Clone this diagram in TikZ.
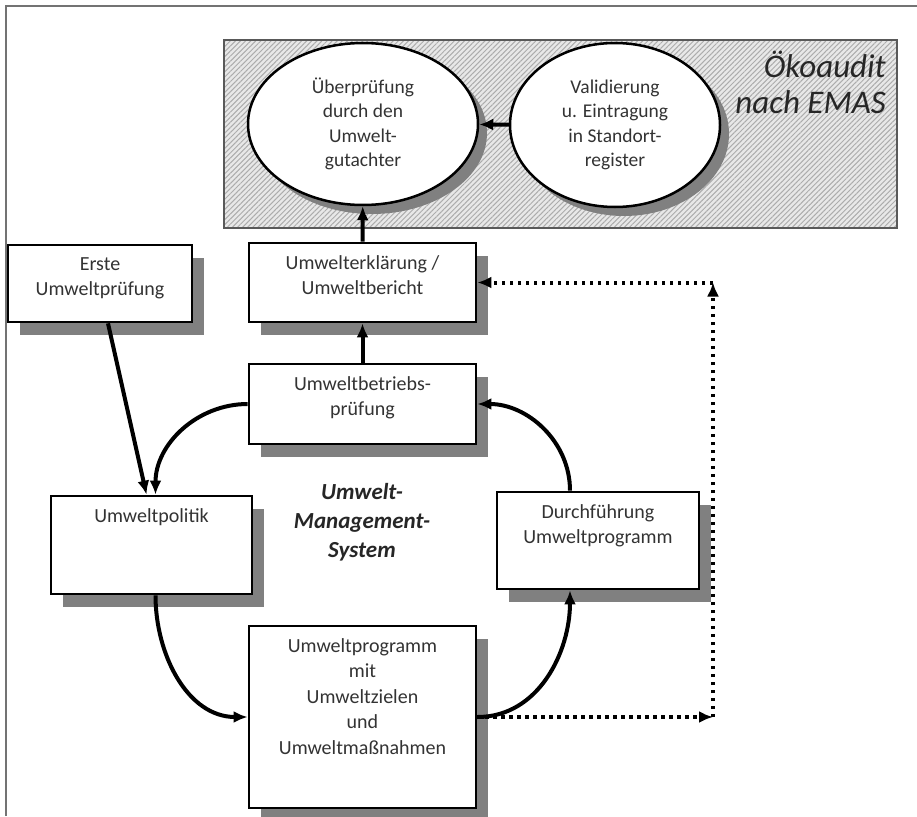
\documentclass[tikz,border=0pt]{standalone}
\usepackage{fontspec}
\setmainfont{Carlito}
\usepackage{tikz}
\usetikzlibrary{positioning}
\usetikzlibrary{shapes.geometric}
\usetikzlibrary{shadows}
\usetikzlibrary{patterns.meta}
\usetikzlibrary{arrows.meta}
\tikzset{>={Latex[length=14pt,width=12pt]}}
\definecolor{framegray}{HTML}{737373}
\definecolor{shadowgray}{HTML}{808080}
\tikzset{
  umbox/.style={draw=black,line width=2.7pt,fill=white,inner sep=0pt,
    drop shadow={shadow xshift=12pt,shadow yshift=-13pt,fill=shadowgray,opacity=1}},
  umring/.style={ellipse,draw=black,line width=2.5pt,fill=white,inner sep=0pt,align=center,
    text=black!80,font=\fontsize{19.5pt}{24.5pt}\selectfont,
    drop shadow={shadow xshift=9pt,shadow yshift=-9pt,fill=shadowgray,opacity=1}},
  umtext/.style={inner sep=0pt,align=center,text=black!80,font=\fontsize{20pt}{25.5pt}\selectfont},
  emasbox/.style={draw=black!65,line width=2pt,preaction={fill=gray!18},
    pattern={Lines[angle=45,distance=3.6pt,line width=1pt]},pattern color=gray!65},
  flow/.style={->,line width=4pt},
  feedback/.style={->,line width=4pt,dash pattern=on 3.5pt off 4.5pt}
}
\begin{document}
\begin{tikzpicture}[x=1pt,y=-1pt]
  \useasboundingbox (0,0) rectangle (917,816);
  \draw[line width=2.2pt,framegray] (6,816) -- (6,6) -- (917,6);

  % Oekoaudit
  \node[emasbox,minimum width=673pt,minimum height=188pt] (emas) at (560.5,134) {};
  \node[umring,minimum width=230pt,minimum height=162pt] (gutachter) at (363,124)
    {Überprüfung\\durch den\\Umwelt-\\gutachter};
  \node[umring,minimum width=210pt,minimum height=164pt] (register) at (615,125)
    {Validierung\\u. Eintragung\\in Standort-\\register};
  \node[inner sep=0pt,align=right,anchor=north east,text=black!85,
    font=\fontsize{33pt}{36pt}\selectfont\itshape] (oeko) at (886,51) {Ökoaudit\\nach EMAS};

  % Kasten
  \node[umbox,minimum width=184pt,minimum height=77pt] (erste) at (100,283.5) {};
  \node[umbox,minimum width=227pt,minimum height=79pt] (erklaer) at (362.5,282.5) {};
  \node[umbox,minimum width=227pt,minimum height=80pt] (betrieb) at (362.5,404) {};
  \node[umbox,minimum width=201pt,minimum height=98pt] (politik) at (151.5,545) {};
  \node[umbox,minimum width=202pt,minimum height=97pt] (durch) at (598,540.5) {};
  \node[umbox,minimum width=227pt,minimum height=182pt] (programm) at (362.5,717) {};

  \node[umtext,below=13.5pt of erste.north] (erstetxt) {Erste\\Umweltprüfung};
  \node[umtext,below=13.5pt of erklaer.north] (erklaertxt) {Umwelterklärung /\\Umweltbericht};
  \node[umtext,below=13.5pt of betrieb.north] (betriebtxt) {Umweltbetriebs-\\prüfung};
  \node[umtext,below=13.5pt of politik.north] (politiktxt) {Umweltpolitik};
  \node[umtext,below=13.5pt of durch.north] (durchtxt) {Durchführung\\Umweltprogramm};
  \node[umtext,below=13.5pt of programm.north] (programmtxt)
    {Umweltprogramm\\mit\\Umweltzielen\\und\\Umweltmaßnahmen};

  \node[inner sep=0pt,align=center,text=black!85,
    font=\fontsize{23pt}{29pt}\selectfont\bfseries\itshape] (ums) at (362,522)
    {Umwelt-\\Management-\\System};

  % Pfeile
  \draw[flow] (register) -- (gutachter);
  \draw[flow] (erklaer) -- (gutachter);
  \draw[flow] (betrieb) -- (erklaer);
  \draw[flow] ([xshift=8pt]erste.south) -- ([xshift=-5pt]politik.north);
  \draw[flow] (betrieb.west) to[out=180,in=90] ([xshift=4pt]politik.north);
  \draw[flow] ([xshift=4pt]politik.south) to[out=270,in=180] (programm.west);
  \draw[flow] (programm.east) to[out=0,in=270] ([xshift=-28pt]durch.south);
  \draw[flow] ([xshift=-28pt]durch.north) to[out=90,in=0] (betrieb.east);

  % Rueckkopplung
  \coordinate (ecke1) at (713,717);
  \coordinate (ecke2) at (713,282.5);
  \draw[feedback] (programm.east) -- (ecke1);
  \draw[feedback] (ecke1) -- (ecke2);
  \draw[feedback] (ecke2) -- (erklaer.east);
\end{tikzpicture}
\end{document}
